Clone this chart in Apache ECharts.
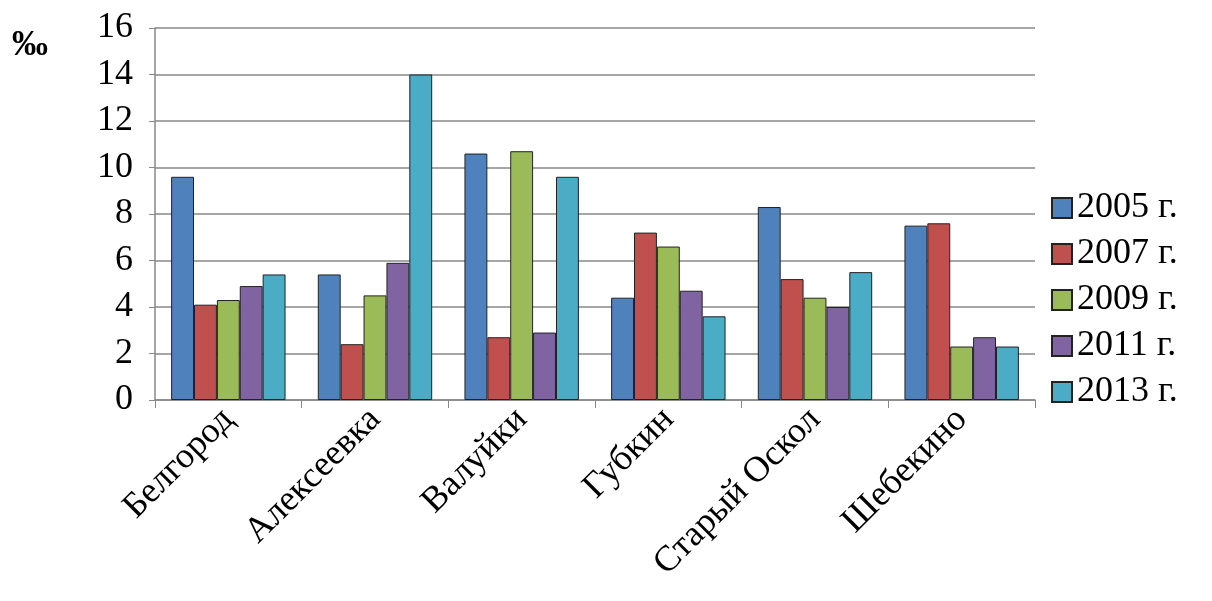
<!DOCTYPE html>
<html><head><meta charset="utf-8">
<script src="https://cdn.jsdelivr.net/npm/echarts@6/dist/echarts.min.js"></script>
<style>html,body{margin:0;background:#fff}#main{width:1212px;height:601px}</style>
</head><body><div id="main"></div>
<script>
var cities = ['Белгород', 'Алексеевка', 'Валуйки', 'Губкин', 'Старый Оскол', 'Шебекино'];
var years = ['2005 г.', '2007 г.', '2009 г.', '2011 г.', '2013 г.'];
var v2005 = [9.6, 5.4, 10.6, 4.4, 8.3, 7.5];
var v2007 = [4.1, 2.4, 2.7, 7.2, 5.2, 7.6];
var v2009 = [4.3, 4.5, 10.7, 6.6, 4.4, 2.3];
var v2011 = [4.9, 5.9, 2.9, 4.7, 4.0, 2.7];
var v2013 = [5.4, 14.0, 9.6, 3.6, 5.5, 2.3];
var colors = ['#4F81BD', '#C0504D', '#9BBB59', '#8064A2', '#4BACC6'];
var allData = [v2005, v2007, v2009, v2011, v2013];

var font = 'Liberation Serif';
var chart = echarts.init(document.getElementById('main'));
chart.setOption({
  animation: false,
  color: colors,
  textStyle: {fontFamily: font},
  graphic: [{type: 'text', left: 12, top: 28, style: {text: '‰', font: 'bold 36px "Liberation Serif"', fill: '#000'}}],
  legend: {
    orient: 'vertical', left: 1046, top: 185, itemGap: 10, itemWidth: 20, itemHeight: 20,
    icon: 'rect',
    textStyle: {fontFamily: font, fontSize: 36, color: '#000'},
    data: years
  },
  grid: {left: 155, right: 177, top: 28, bottom: 201, containLabel: false},
  xAxis: {
    type: 'category', data: cities,
    axisLine: {lineStyle: {color: '#888', width: 1.5}},
    axisTick: {show: true, length: 8, lineStyle: {color: '#888'}},
    axisLabel: {rotate: 45, fontFamily: font, fontSize: 36, color: '#000', margin: 14, interval: 0}
  },
  yAxis: {
    type: 'value', min: 0, max: 16, interval: 2,
    axisLine: {show: true, lineStyle: {color: '#888', width: 1.5}},
    axisTick: {show: true, length: 6, lineStyle: {color: '#888'}},
    splitLine: {lineStyle: {color: '#888', width: 1.5}},
    axisLabel: {fontFamily: font, fontSize: 36, color: '#000', margin: 22}
  },
  series: years.map(function (y, i) {
    return {
      name: y, type: 'bar', data: allData[i], barGap: '0%', barCategoryGap: '22%',
      itemStyle: {borderColor: '#222', borderWidth: 1}
    };
  })
});
</script></body></html>
